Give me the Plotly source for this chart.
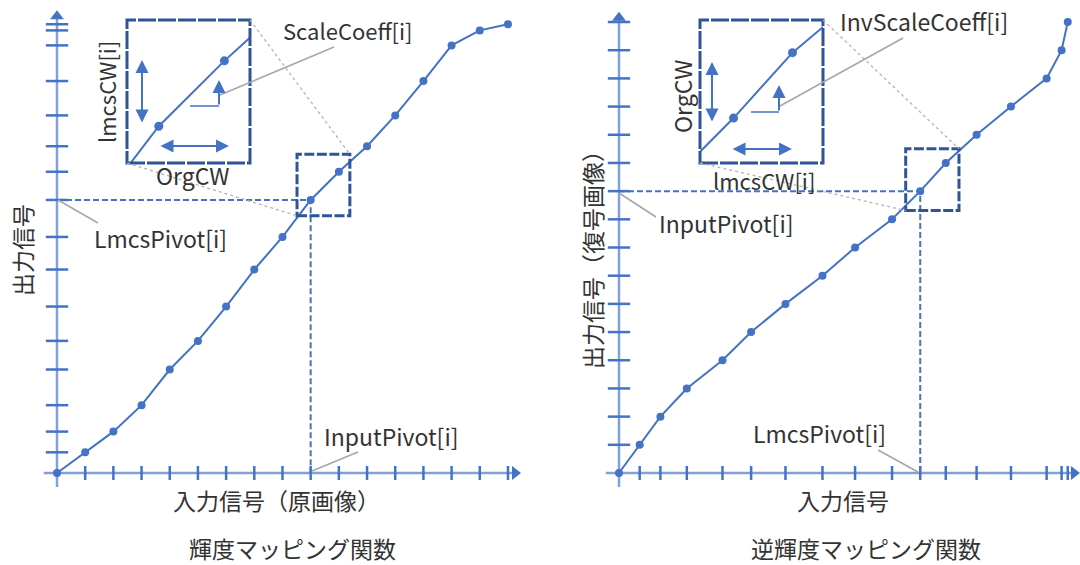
import plotly.graph_objects as go

# %%
# Pivot points of the luma mapping curve (10-bit code values)
pivot_in = [0, 64, 128, 192, 256, 320, 384, 448, 512, 576, 640, 704, 768, 832, 896, 960, 1024]
pivot_out = [0, 47, 94, 154, 235, 300, 378, 462, 536, 620, 684, 742, 812, 890, 971, 1005, 1019]

# forward mapping (left) and inverse mapping (right)
fwd_x, fwd_y = pivot_in, pivot_out
inv_x, inv_y = pivot_out, pivot_in
fwd_pivot = 9
inv_pivot = 10

# zoomed windows shown in the insets
fwd_zoom_x = [545, 665]
fwd_zoom_y = [584, 724]
inv_zoom_x = [651, 772]
inv_zoom_y = [596, 736]

# %%
W, H = 1080, 565
S = 0.4404  # pixels per code value
BLUE = "#4472C4"
AXIS = "#7FA1DD"
DARK = "#2F5597"
GREY = "#A6A6A6"
TXT = "#333333"
FONT = "Noto Sans CJK JP"

fig = go.Figure()


def px(x):
    return x / W


def py(y):
    return 1 - y / H


def add_panel(n, ox, oy, xs, ys, piv, xr, yr, x_end, y_end):
    xa, ya = "x" + ("" if n == 1 else str(n)), "y" + ("" if n == 1 else str(n))
    fig.update_layout(
        {
            "xaxis" + ("" if n == 1 else str(n)): dict(
                domain=[(ox + xr[0] * S) / W, (ox + xr[1] * S) / W],
                range=xr, visible=False, anchor=ya,
            ),
            "yaxis" + ("" if n == 1 else str(n)): dict(
                domain=[1 - (oy - yr[0] * S) / H, 1 - (oy - yr[1] * S) / H],
                range=yr, visible=False, anchor=xa,
            ),
        }
    )
    # axis lines
    fig.add_trace(go.Scatter(x=[-30, x_end], y=[0, 0], mode="lines",
                             line=dict(color=AXIS, width=2.5), xaxis=xa, yaxis=ya, cliponaxis=False))
    fig.add_trace(go.Scatter(x=[0, 0], y=[-32, y_end], mode="lines",
                             line=dict(color=AXIS, width=2.5), xaxis=xa, yaxis=ya, cliponaxis=False))
    # ticks at the pivot points
    fig.add_trace(go.Scatter(x=xs[1:], y=[0] * (len(xs) - 1), mode="markers",
                             marker=dict(symbol="line-ns", size=10, line=dict(color=BLUE, width=2.5)),
                             xaxis=xa, yaxis=ya, cliponaxis=False))
    fig.add_trace(go.Scatter(x=[0] * (len(ys) - 1), y=ys[1:], mode="markers",
                             marker=dict(symbol="line-ew", size=16, line=dict(color=BLUE, width=2.5)),
                             xaxis=xa, yaxis=ya, cliponaxis=False))
    # arrow heads
    fig.add_trace(go.Scatter(x=[x_end, 0], y=[0, y_end], mode="markers",
                             marker=dict(symbol=["triangle-right", "triangle-up"], size=12, color=BLUE),
                             xaxis=xa, yaxis=ya, cliponaxis=False))
    # pivot dashed guide lines
    fig.add_trace(go.Scatter(x=[0, xs[piv], xs[piv]], y=[ys[piv], ys[piv], 0], mode="lines",
                             line=dict(color=BLUE, width=2, dash="6px,3px"), xaxis=xa, yaxis=ya))
    # mapping curve
    fig.add_trace(go.Scatter(x=xs, y=ys, mode="lines+markers",
                             line=dict(color=BLUE, width=2), marker=dict(size=8, color=BLUE),
                             xaxis=xa, yaxis=ya, cliponaxis=False))


def add_inset(n, box, zx, zy, xs, ys):
    xa, ya = "x" + str(n), "y" + str(n)
    x0, y0, x1, y1 = box
    fig.update_layout(
        {
            "xaxis" + str(n): dict(domain=[x0 / W, x1 / W], range=zx, visible=False, anchor=ya),
            "yaxis" + str(n): dict(domain=[1 - y1 / H, 1 - y0 / H], range=zy, visible=False, anchor=xa),
        }
    )
    fig.add_trace(go.Scatter(x=xs, y=ys, mode="lines+markers",
                             line=dict(color=BLUE, width=2), marker=dict(size=9, color=BLUE),
                             xaxis=xa, yaxis=ya))
    fig.add_shape(type="rect", xref=xa + " domain", yref=ya + " domain", x0=0, x1=1, y0=0, y1=1,
                  line=dict(color=DARK, width=3, dash="18px,2px"))


def line_px(a, b, color=GREY, width=1.5, dash="solid"):
    fig.add_shape(type="line", xref="paper", yref="paper",
                  x0=px(a[0]), y0=py(a[1]), x1=px(b[0]), y1=py(b[1]),
                  line=dict(color=color, width=width, dash=dash))


def arrow_px(head, tail, both=True):
    fig.add_annotation(xref="paper", yref="paper", x=px(head[0]), y=py(head[1]),
                       axref="pixel", ayref="pixel", ax=tail[0] - head[0], ay=tail[1] - head[1],
                       text="", showarrow=True, arrowhead=2, arrowsize=1.3, arrowwidth=2,
                       arrowcolor=BLUE, arrowside="end+start" if both else "end")


def label(text, x, y, angle=0, size=22):
    fig.add_annotation(xref="paper", yref="paper", x=px(x), y=py(y), text=text, showarrow=False,
                       textangle=angle, xanchor="center", yanchor="middle",
                       font=dict(family=FONT, size=size, color=TXT))


# %%
# left: luma mapping function
add_panel(1, 57, 473, fwd_x, fwd_y, fwd_pivot, [-60, 1062], [-50, 1062], 1040, 1037)
fig.add_shape(type="rect", xref="x", yref="y", x0=fwd_zoom_x[0], x1=fwd_zoom_x[1],
              y0=fwd_zoom_y[0], y1=fwd_zoom_y[1], line=dict(color=DARK, width=3, dash="10px,2.5px"))
add_inset(3, (127, 20, 250, 163), fwd_zoom_x, fwd_zoom_y, fwd_x, fwd_y)

# right: inverse luma mapping function
add_panel(2, 619, 473, inv_x, inv_y, inv_pivot, [-60, 1046], [-50, 1062], 1033, 1034)
fig.add_shape(type="rect", xref="x2", yref="y2", x0=inv_zoom_x[0], x1=inv_zoom_x[1],
              y0=inv_zoom_y[0], y1=inv_zoom_y[1], line=dict(color=DARK, width=3, dash="10px,2.5px"))
add_inset(4, (700, 20, 823, 163), inv_zoom_x, inv_zoom_y, inv_x, inv_y)

# dotted connectors from zoom box to inset
line_px((250, 20), (57 + fwd_zoom_x[1] * S, 473 - fwd_zoom_y[1] * S), color="#B4B4B4", width=1.3, dash="dot")
line_px((127, 163), (57 + fwd_zoom_x[0] * S, 473 - fwd_zoom_y[0] * S), color="#B4B4B4", width=1.3, dash="dot")
line_px((823, 20), (619 + inv_zoom_x[1] * S, 473 - inv_zoom_y[1] * S), color="#B4B4B4", width=1.3, dash="dot")
line_px((700, 163), (619 + inv_zoom_x[0] * S, 473 - inv_zoom_y[0] * S), color="#B4B4B4", width=1.3, dash="dot")

# inset arrows
arrow_px((142, 60), (142, 124))
arrow_px((229, 146), (159, 146))
line_px((190, 106), (219, 106), color=BLUE, width=1.5)
arrow_px((219, 80), (219, 106), both=False)
arrow_px((712, 62), (712, 123))
arrow_px((792, 149), (731, 149))
line_px((751, 112), (779, 112), color=BLUE, width=1.5)
arrow_px((779, 85), (779, 112), both=False)

# leader lines
line_px((220, 95), (334, 47))
line_px((58, 200), (98, 223))
line_px((312, 471), (358, 452))
line_px((780, 106), (903, 38))
line_px((619, 193), (656, 217))
line_px((878, 450), (918, 472))

# texts
label("ScaleCoeff[i]", 348, 30)
label("lmcsCW[i]", 106, 92, -90)
label("OrgCW", 193, 175, 0, 23)
label("LmcsPivot[i]", 160, 238, 0, 23)
label("InputPivot[i]", 391, 436, 0, 23)
label("出力信号", 22, 250, -90, 23)
label("入力信号（原画像）", 276, 500, 0, 23)
label("輝度マッピング関数", 292, 548, 0, 23)

label("InvScaleCoeff[i]", 924, 21, 0, 23)
label("OrgCW", 682, 96, -90, 23)
label("lmcsCW[i]", 764, 180)
label("InputPivot[i]", 726, 223, 0, 23)
label("LmcsPivot[i]", 819, 433, 0, 23)
label("出力信号（復号画像）", 592, 254, -90, 23)
label("入力信号", 843, 500, 0, 23)
label("逆輝度マッピング関数", 866, 548, 0, 23)

fig.update_layout(width=W, height=H, margin=dict(l=0, r=0, t=0, b=0),
                  plot_bgcolor="white", paper_bgcolor="white", showlegend=False)
fig.write_html("out.html", config={"displayModeBar": False},
               post_script="document.body.style.margin='0';")
